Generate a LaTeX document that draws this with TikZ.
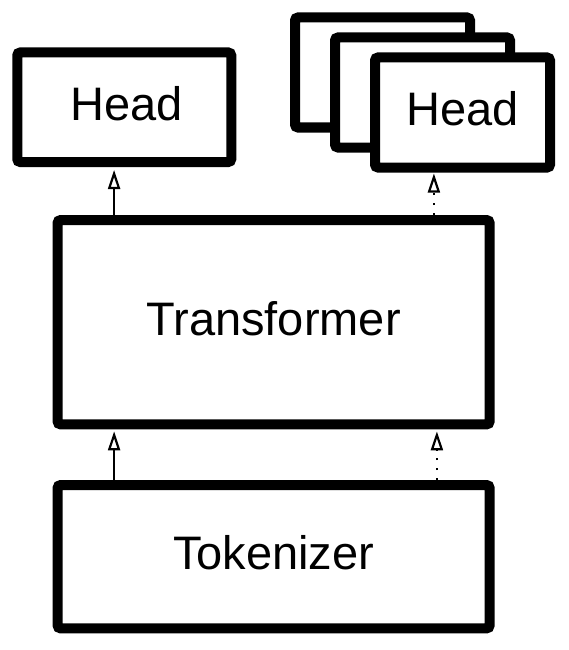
\documentclass[tikz,border=0pt]{standalone}
\usepackage{fontspec}
\setmainfont{Liberation Sans}
\usetikzlibrary{arrows.meta}
\tikzset{
  blk/.style={draw=black, fill=white, line width=10pt, rounded corners=3pt,
    inner sep=0pt, outer sep=5pt, font=\fontsize{47}{56}\selectfont,
    text height=34pt, text depth=8pt},
  conn/.style={line width=2pt, -{Triangle[open, fill=white, length=19pt, width=12pt, line width=2.2pt]}},
  dotconn/.style={conn, dash pattern=on 2.5pt off 7.5pt}
}
\begin{document}
\begin{tikzpicture}[x=1pt, y=-1pt]
\useasboundingbox (0,0) rectangle (569,650);
% left head
\node[blk, minimum width=214pt, minimum height=109.5pt] (hl) at (124.25,107.25) {\hspace*{5pt}Head};
% stacked heads
\node[blk, minimum width=175pt, minimum height=110pt] (hb1) at (382.5,72.5) {};
\node[blk, minimum width=175pt, minimum height=110pt] (hb2) at (422.5,92.5) {};
\node[blk, minimum width=175pt, minimum height=110pt] (hr) at (462.5,112.5) {Head};
% transformer
\node[blk, minimum width=432pt, minimum height=204.3pt] (tr) at (273.6,322.2) {Transformer};
% tokenizer
\node[blk, minimum width=432pt, minimum height=143.3pt] (tk) at (273.6,556.7) {Tokenizer};
% connectors
\draw[conn, shorten >=3pt] ([xshift=61.5pt]tr.north west) -- ([xshift=61.5pt]tr.north west |- hl.south);
\draw[dotconn, shorten >=1pt] ([xshift=-60.7pt]tr.north east) -- ([xshift=-60.7pt]tr.north east |- hr.south);
\draw[conn, shorten >=2pt] ([xshift=61.5pt]tk.north west) -- ([xshift=61.5pt]tk.north west |- tr.south);
\draw[dotconn, shorten >=2pt] ([xshift=-57.7pt]tk.north east) -- ([xshift=-57.7pt]tk.north east |- tr.south);
\end{tikzpicture}
\end{document}
